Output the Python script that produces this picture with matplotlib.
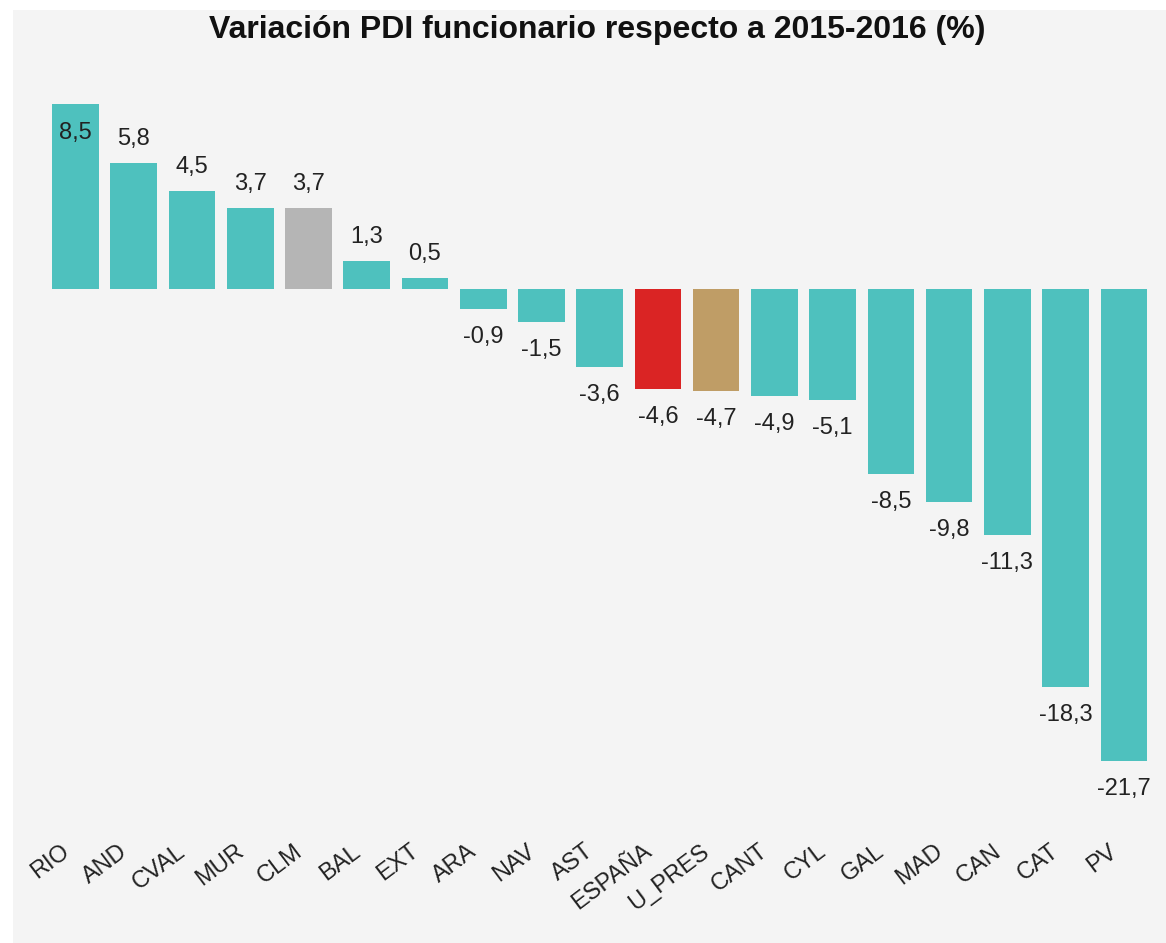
import matplotlib
matplotlib.use("Agg")
import matplotlib.pyplot as plt
import matplotlib.transforms as mtransforms
from matplotlib.patches import Rectangle

# Data
categories = ["RIO", "AND", "CVAL", "MUR", "CLM", "BAL", "EXT", "ARA", "NAV", "AST",
              "ESPAÑA", "U_PRES", "CANT", "CYL", "GAL", "MAD", "CAN", "CAT", "PV"]
values = [8.5, 5.8, 4.5, 3.7, 3.7, 1.3, 0.5, -0.9, -1.5, -3.6,
          -4.6, -4.7, -4.9, -5.1, -8.5, -9.8, -11.3, -18.3, -21.7]
title = "Variación PDI funcionario respecto a 2015-2016 (%)"

TEAL = "#4EC1BE"
special_colors = {"CLM": "#B5B5B5", "ESPAÑA": "#DA2424", "U_PRES": "#BF9D66"}
colors = [special_colors.get(c, TEAL) for c in categories]

plt.rcParams["font.family"] = ["Liberation Sans", "DejaVu Sans"]

W, H, DPI = 1166, 943, 100
fig = plt.figure(figsize=(W / DPI, H / DPI), dpi=DPI, facecolor="white")

# light grey panel behind the chart
fig.patches.append(Rectangle((13 / W, 0), 1 - 13 / W, 1 - 10 / H,
                             transform=fig.transFigure, facecolor="#F4F4F4",
                             edgecolor="none", zorder=-10))

ax_left, ax_right = 46.4, 1153.0
ax_top, ax_bottom = 104.0, 789.5
ax = fig.add_axes([ax_left / W, 1 - ax_bottom / H,
                   (ax_right - ax_left) / W, (ax_bottom - ax_top) / H])
ax.set_facecolor("none")
for s in ax.spines.values():
    s.set_visible(False)
ax.set_xticks([])
ax.set_yticks([])

x = list(range(len(categories)))
ax.bar(x, values, width=0.8, color=colors, edgecolor="none", zorder=2)
ymax = max(values)
ax.set_xlim(-0.5, len(categories) - 0.5)
ax.set_ylim(-23, ymax)

px = 72 / DPI  # points per pixel
for xi, v in zip(x, values):
    label = f"{v:.1f}".replace(".", ",")
    if v >= 0:
        dy = -29 if v == ymax else 24
    else:
        dy = -28
    ax.annotate(label, (xi, v), xytext=(0, dy * px), textcoords="offset points",
                ha="center", va="center", fontsize=17, color="#222222", zorder=3)

# rotated category labels
base = mtransforms.blended_transform_factory(ax.transData, fig.transFigure)
for xi, c in zip(x, categories):
    tr = base + mtransforms.ScaledTranslation(-9 / DPI, 0, fig.dpi_scale_trans)
    ax.text(xi, 1 - 849 / H, c, transform=tr, rotation=37, rotation_mode="anchor",
            ha="right", va="center", fontsize=17, color="#222222", clip_on=False)

fig.text(597 / W, 1 - 30 / H, title, ha="center", va="center",
         fontsize=23, fontweight="bold", color="#111111")

fig.savefig("out.png", dpi=DPI, facecolor="white")
